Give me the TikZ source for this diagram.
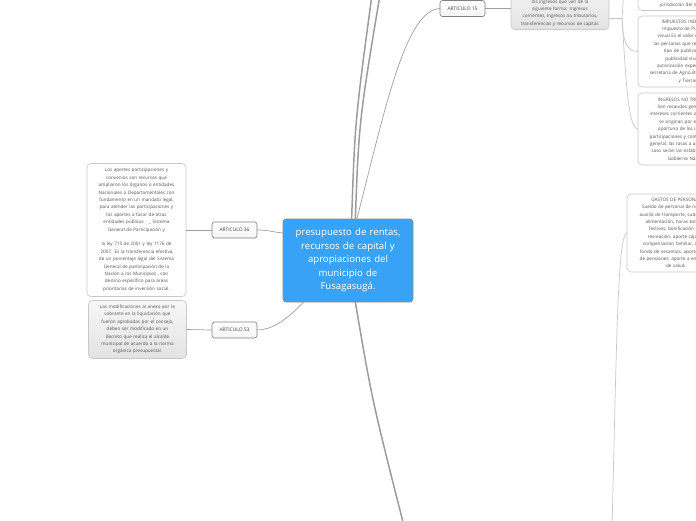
\documentclass[tikz,border=0pt]{standalone}
\usepackage{fontspec}
\setmainfont{Open Sans}
\definecolor{centerblue}{HTML}{38A2F6}
\definecolor{linegray}{HTML}{9C9C9C}
\definecolor{boxborder}{HTML}{C8C8C8}
\definecolor{notetext}{HTML}{505050}
\begin{document}
\begin{tikzpicture}[x=1pt,y=-1pt,
  every node/.style={inner sep=0pt, outer sep=0pt},
  note/.style={draw=boxborder, line width=0.6pt, rounded corners=4pt, fill=white,
    align=center, text=notetext, font=\fontsize{4.6}{7.4}\selectfont},
  graynote/.style={note, top color=black!3, bottom color=black!11},
  topic/.style={draw=black!50, line width=0.6pt, rounded corners=2.5pt, top color=white, bottom color=black!4,
    text=black!75, font=\fontsize{4.9}{5}\selectfont, minimum width=45pt, minimum height=16pt},
  central/.style={draw=black!45, line width=0.7pt, rounded corners=3pt, fill=centerblue,
    text=white, align=center, font=\fontsize{9.6}{13.5}\selectfont, minimum width=130pt, minimum height=83pt, text width=124pt},
  mainline/.style={draw=linegray, line width=1.5pt},
  conn/.style={draw=black!38, line width=0.7pt},
  faint/.style={draw=black!22, line width=0.7pt}
]
\path[use as bounding box, clip] (0,0) rectangle (696,520);

% central node
\node[central] (c) at (348,260.5) {presupuesto de rentas,\\recursos de capital y\\apropiaciones del\\municipio de\\Fusagasugá.};

% level-1 topics
\node[topic] (a36) at (234.5,230) {ARTICULO 36};
\node[topic] (a53) at (234.5,330) {ARTICULO 53};
\node[topic] (a15) at (462.5,8.5) {ARTICULO 15};

% left notes
\node[note, minimum width=99pt, minimum height=133pt, text width=96pt] (b1) at (136.5,230) {Los aportes participaciones y\\convenios son recursos que\\ampliaron los órganos o entidades\\Nacionales o Departamentales con\\fundamento en un mandato legal,\\para atender las participaciones y\\los aportes a favor de otras\\entidades públicas . \_ Sistema\\General de Participación y\\[7.4pt]la ley 715 de 2001 y ley 1176 de\\2007. Es la transferencia efectiva\\de un porcentaje legal del Sistema\\General de participación de la\\Nación a los Municipios , con\\destino específico para áreas\\prioritarias de inversión social.};
\node[graynote, minimum width=98pt, minimum height=58pt, text width=95pt] (b2) at (137.5,329.5) {Las modificaciones al anexo por lo\\sobrante en la liquidación que\\fueron aprobadas por el consejo,\\deben ser modificado en un\\decreto que realiza el alcalde\\municipal de acuerdo a la norma\\orgánica presupuestal.};

% top note of Articulo 15
\node[graynote, text width=98pt, inner ysep=3pt, anchor=south west] (tb) at (511,29.5) {\rule{0pt}{22pt}los ingresos que van de la\\siguiente forma: Ingresos\\corrientes, Ingresos no tributarios,\\transferencias y recursos de capital.};

% right notes (cut by the frame)
\node[note, text width=96pt, inner xsep=2pt, inner ysep=2.5pt, anchor=south west] (gA) at (638,10.5) {\rule{0pt}{16pt}jurisdicción del municipio.};
\node[note, text width=96pt, inner xsep=2pt, minimum height=71pt, anchor=north west] (gB) at (638,16) {IMPUESTOS INDIRECTOS\\Impuesto de Publicidad\\visual Es el valor que pagan\\las personas que realizan algún\\tipo de publicación de\\publicidad visual con\\autorización expedida por la\\secretaría de Agricultura, Ambiente\\y Tierras};
\node[note, text width=96pt, inner xsep=2pt, minimum height=72pt, anchor=north west] (gC) at (638,93) {INGRESOS NO TRIBUTARIOS\\Son recaudos generales por\\intereses corrientes o de mora que\\se originan por el pago no\\oportuno de los impuestos,\\participaciones y contribuciones en\\general, las tasas a aplicar en cada\\caso serán las establecidas por el\\Gobierno Nacional};
\node[note, text width=94pt, inner xsep=2pt, minimum height=78pt, anchor=north west] (gD) at (627,194) {GASTOS DE PERSONAL\\Sueldo de personal de nómina,\\auxilio de transporte, subsidio de\\alimentación, horas extras y\\festivos, bonificación por\\recreación, aporte caja de\\compensación familiar, aporte\\fondo de cesantías, aporte fondo\\de pensiones, aporte a entidades\\de salud.};

% off-frame coordinates
\coordinate (u1) at (374,-20);
\coordinate (u2) at (382.5,-20);
\coordinate (d1) at (405,530);
\coordinate (j) at (622,18);
\coordinate (ja) at (624,-10);
\coordinate (dd) at (612,530);

% connectors
\path[mainline] (c.85) .. controls (355,120) .. (u1);
\path[mainline] (c.80) .. controls (359,120) .. (u2);
\path[mainline] (c.280) .. controls (372,400) .. (d1);
\path[conn] (c.78) .. controls (385,110) and (405,10) .. (a15.west);
\path[conn] (c.157) .. controls (272,232) and (268,230) .. (a36.east);
\path[conn] (c.223) .. controls (285,322) and (270,330) .. (a53.east);
\path[conn] (a36.west) -- (b1.east);
\path[conn] (a53.west) -- (b2.east);
\path[conn] (a15.east) -- (tb.west |- a15.east);
\path[faint] (tb.east |- j) -- (j);
\path[faint] (j) -- (ja);
\path[faint] (j) .. controls (623,45) and (628,51.5) .. (gB.west);
\path[faint] (j) .. controls (626,80) and (628,129) .. (gC.west);
\path[faint] (gD.west) .. controls (618,236) and (617,320) .. (dd);
\end{tikzpicture}
\end{document}
